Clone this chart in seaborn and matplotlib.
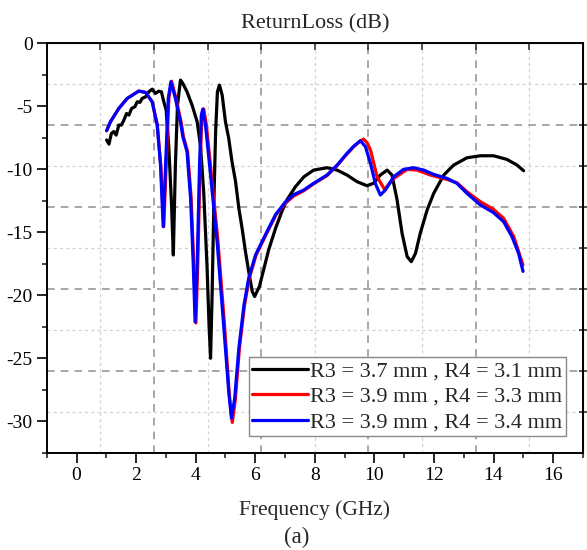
import matplotlib
matplotlib.use("Agg")
import matplotlib.pyplot as plt
import numpy as np
import pandas as pd
import seaborn as sns

# ---------------- data ----------------
labels = ["R3 = 3.7 mm , R4 = 3.1 mm",
          "R3 = 3.9 mm , R4 = 3.3 mm",
          "R3 = 3.9 mm , R4 = 3.4 mm"]

black_x = [1.01, 1.09, 1.17, 1.25, 1.33, 1.42, 1.51, 1.59, 1.68, 1.76,
           1.85, 1.96, 2.04, 2.13, 2.20, 2.32, 2.43, 2.54, 2.65, 2.76,
           2.85, 2.93, 3.01, 3.10, 3.19, 3.25, 3.32, 3.39, 3.49, 3.57,
           3.71, 3.88, 4.05, 4.16, 4.27, 4.38, 4.45, 4.50, 4.55, 4.61,
           4.67, 4.73, 4.80, 4.89, 5.00, 5.11, 5.22, 5.34, 5.45, 5.56,
           5.67, 5.78, 5.90, 5.98, 6.14, 6.29, 6.45, 6.68, 6.90, 7.07,
           7.35, 7.63, 7.96, 8.41, 8.75, 9.08, 9.42, 9.75, 9.98, 10.2,
           10.43, 10.59, 10.76, 10.93, 11.10, 11.24, 11.38, 11.54, 11.77, 11.99,
           12.33, 12.66, 13.11, 13.56, 14.0, 14.45, 14.79, 15.01]
black_y = [-7.67, -7.99, -7.15, -7.0, -7.28, -6.48, -6.48, -6.09, -5.56, -5.69,
           -5.16, -5.03, -4.63, -4.68, -4.37, -4.24, -3.84, -3.63, -3.97, -3.79,
           -3.84, -4.63, -5.29, -8.3, -12.8, -16.8, -9.66, -4.9, -2.91, -3.18,
           -3.84, -4.9, -6.22, -8.07, -11.8, -17.6, -22.4, -25.0, -20.2, -12.8,
           -7.01, -3.84, -3.31, -4.1, -6.22, -7.54, -9.39, -10.98, -13.1, -14.7,
           -16.5, -18.1, -19.7, -20.1, -19.3, -17.9, -16.4, -14.7, -13.3, -12.4,
           -11.38, -10.6, -10.06, -9.87, -10.06, -10.45, -10.98, -11.3, -11.1, -10.45,
           -10.06, -10.45, -12.4, -15.08, -16.93, -17.33, -16.67, -15.08, -13.23, -11.91,
           -10.45, -9.66, -9.08, -8.92, -8.92, -9.21, -9.66, -10.11]

red_x = [1.01, 1.14, 1.42, 1.70, 2.09, 2.32, 2.54, 2.71, 2.83, 2.93,
         3.01, 3.10, 3.19, 3.34, 3.51, 3.59, 3.73, 3.85, 3.94, 4.01,
         4.07, 4.15, 4.21, 4.27, 4.36, 4.53, 4.75, 4.97, 5.13, 5.23,
         5.33, 5.47, 5.64, 5.80, 6.03, 6.36, 6.70, 7.01, 7.30, 7.63,
         7.96, 8.41, 8.75, 9.08, 9.31, 9.52, 9.64, 9.76, 9.87, 10.09,
         10.34, 10.65, 11.1, 11.43, 11.88, 12.44, 12.77, 13.11, 13.56, 14.0,
         14.34, 14.68, 14.99]
red_y = [-6.93, -6.22, -5.16, -4.37, -3.78, -3.89, -4.63, -6.48, -9.66, -14.55,
         -9.66, -4.37, -3.0, -4.37, -6.22, -7.41, -8.6, -12.3, -17.6, -22.2,
         -17.6, -9.66, -5.69, -5.2, -6.48, -10.45, -15.74, -22.4, -27.9, -30.1,
         -28.3, -24.2, -20.8, -18.65, -16.8, -15.2, -13.6, -12.7, -12.1, -11.7,
         -11.15, -10.5, -9.7, -8.78, -8.2, -7.75, -7.6, -7.9, -8.47, -10.58,
         -11.59, -10.72, -10.0, -10.06, -10.45, -10.8, -11.06, -11.78, -12.57, -13.18,
         -13.89, -15.35, -17.6]

blue_x = [1.01, 1.14, 1.42, 1.70, 2.09, 2.32, 2.54, 2.71, 2.82, 2.91,
          2.99, 3.08, 3.17, 3.32, 3.49, 3.57, 3.71, 3.83, 3.92, 3.98,
          4.05, 4.13, 4.19, 4.24, 4.33, 4.50, 4.72, 4.94, 5.11, 5.20,
          5.31, 5.45, 5.62, 5.78, 6.01, 6.34, 6.68, 7.01, 7.30, 7.63,
          7.96, 8.41, 8.75, 9.08, 9.31, 9.53, 9.70, 9.87, 10.03, 10.2,
          10.37, 10.65, 10.98, 11.32, 11.66, 11.99, 12.44, 12.77, 13.11, 13.56,
          14.0, 14.34, 14.62, 14.84, 14.99]
blue_y = [-6.93, -6.22, -5.16, -4.37, -3.78, -3.89, -4.63, -6.48, -9.66, -14.55,
          -9.66, -4.37, -3.04, -4.37, -6.22, -7.41, -8.6, -12.3, -17.6, -22.1,
          -17.6, -9.66, -5.69, -5.21, -6.48, -10.45, -15.74, -22.4, -27.65, -29.76,
          -28.2, -24.2, -20.8, -18.65, -16.8, -15.2, -13.6, -12.6, -12.0, -11.64,
          -11.11, -10.45, -9.66, -8.73, -8.15, -7.73, -8.2, -9.53, -11.11, -12.04,
          -11.64, -10.58, -10.0, -9.87, -10.06, -10.4, -10.72, -11.11, -11.91, -12.83,
          -13.44, -14.16, -15.35, -16.67, -18.1]

colors = ["#000000", "#ff0000", "#0000ff"]
x_ticks = list(range(0, 17, 2))
y_ticks = list(range(0, -31, -5))

# ---------------- style ----------------
sns.set_style("ticks")
plt.rcParams["font.family"] = ["Liberation Serif", "DejaVu Serif"]
plt.rcParams["axes.unicode_minus"] = False

df = pd.concat([
    pd.DataFrame({"f": black_x, "rl": black_y, "series": labels[0]}),
    pd.DataFrame({"f": red_x, "rl": red_y, "series": labels[1]}),
    pd.DataFrame({"f": blue_x, "rl": blue_y, "series": labels[2]}),
], ignore_index=True)

fig = plt.figure(figsize=(5.87, 5.5), dpi=100)
ax = fig.add_axes([0.0796, 0.177, 0.9134, 0.744])

xmin, xmax = -1, 17
ymin, ymax = -32.5, 0
ax.set_xlim(xmin, xmax)
ax.set_ylim(ymin, ymax)

# background grid (independent of the ticks, as in the reference)
gx = np.linspace(xmin, xmax, 11)[1:-1]
gy = np.linspace(ymax, ymin, 11)[1:-1]
for i, v in enumerate(gx):
    if i % 2 == 1:
        ax.axvline(v, color="#8f8f8f", lw=1.1, dashes=(5, 4), zorder=0)
    else:
        ax.axvline(v, color="#d2d2d2", lw=0.9, dashes=(2.5, 2.5), zorder=0)
for i, v in enumerate(gy):
    if i % 2 == 1:
        ax.axhline(v, color="#8f8f8f", lw=1.1, dashes=(5, 4), zorder=0)
    else:
        ax.axhline(v, color="#d2d2d2", lw=0.9, dashes=(2.5, 2.5), zorder=0)

sns.lineplot(data=df, x="f", y="rl", hue="series", hue_order=labels,
             palette=colors, sort=False, estimator=None, lw=2.3, ax=ax,
             legend=True)

# axes, ticks
ax.set_xticks(x_ticks)
ax.set_xticks(list(range(-1, 18, 2)), minor=True)
ax.set_yticks(y_ticks)
ax.set_yticks(list(np.arange(-2.5, -33, -5)), minor=True)
ax.tick_params(axis="both", which="major", direction="out", length=7, width=1.2,
               labelsize=14, colors="black", top=False, right=False, pad=3)
ax.tick_params(axis="both", which="minor", direction="out", length=3.5, width=1.2,
               top=False, right=False)
for s in ax.spines.values():
    s.set_linewidth(1.4)
    s.set_color("black")

secx = ax.secondary_xaxis("top")
secx.set_xticks(gx)
secx.tick_params(direction="in", length=5, width=1.1, labeltop=False)
secx.xaxis.set_minor_locator(matplotlib.ticker.NullLocator())
secy = ax.secondary_yaxis("right")
secy.set_yticks(gy)
secy.tick_params(direction="inout", length=6, width=1.1, labelright=False)
secy.yaxis.set_minor_locator(matplotlib.ticker.NullLocator())

ax.set_title("ReturnLoss (dB)", fontsize=16, pad=11)
ax.set_xlabel("Frequency (GHz)", fontsize=15.5, labelpad=12)
ax.set_ylabel("")

handles, labs = ax.get_legend_handles_labels()
leg = ax.legend(handles, labs, loc="lower right", bbox_to_anchor=(0.968, 0.041),
                fontsize=16, frameon=True, fancybox=False, framealpha=1,
                edgecolor="#888888", handlelength=2.5, handletextpad=0.1,
                labelspacing=0.22, borderpad=0.16, borderaxespad=0)
leg.get_frame().set_linewidth(1.0)
for ln in leg.get_lines():
    ln.set_linewidth(2.3)

fig.text(0.505, 0.022, "(a)", fontsize=16.5, ha="center", va="center")

fig.savefig("out.png", dpi=100)
